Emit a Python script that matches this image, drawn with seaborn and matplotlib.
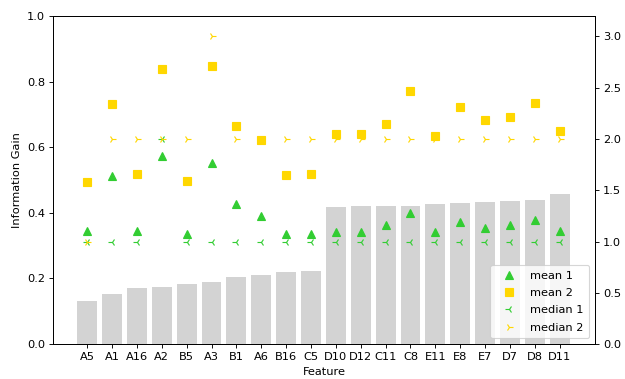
import numpy as np
import pandas as pd
import matplotlib
matplotlib.use("Agg")
import matplotlib.pyplot as plt
import seaborn as sns

features = ["A5", "A1", "A16", "A2", "B5", "A3", "B1", "A6", "B16", "C5",
            "D10", "D12", "C11", "C8", "E11", "E8", "E7", "D7", "D8", "D11"]
info_gain = [0.130, 0.152, 0.172, 0.174, 0.184, 0.190, 0.205, 0.212, 0.219, 0.224,
             0.418, 0.420, 0.420, 0.422, 0.427, 0.431, 0.433, 0.435, 0.440, 0.456]
mean1 = [1.10, 1.64, 1.10, 1.83, 1.07, 1.77, 1.37, 1.25, 1.07, 1.07,
         1.09, 1.09, 1.16, 1.28, 1.09, 1.19, 1.13, 1.16, 1.21, 1.10]
mean2 = [1.58, 2.34, 1.66, 2.68, 1.59, 2.71, 2.13, 1.99, 1.65, 1.66,
         2.05, 2.05, 2.15, 2.47, 2.03, 2.31, 2.19, 2.21, 2.35, 2.08]
median1 = [1, 1, 1, 2, 1, 1, 1, 1, 1, 1, 1, 1, 1, 1, 1, 1, 1, 1, 1, 1]
median2 = [1, 2, 2, 2, 2, 3, 2, 2, 2, 2, 2, 2, 2, 2, 2, 2, 2, 2, 2, 2]

df = pd.DataFrame({"Feature": features, "Information Gain": info_gain})

DPI = 82
fig, ax = plt.subplots(figsize=(625 / DPI, 379 / DPI), dpi=DPI)
fig.subplots_adjust(left=0.085, right=0.952, top=0.958, bottom=0.092)

sns.barplot(data=df, x="Feature", y="Information Gain", color="lightgray",
            saturation=1, width=0.8, ax=ax)
ax.set_ylim(0, 1.0)
ax.set_xlabel("Feature")
ax.set_ylabel("Information Gain")

ax2 = ax.twinx()
pos = np.arange(len(features))
green = "#32CD32"
yellow = "#FFD700"
ms = 6.5
ax2.plot(pos, mean1, linestyle="None", marker="^", markersize=ms, color=green, label="mean 1")
ax2.plot(pos, mean2, linestyle="None", marker="s", markersize=ms, color=yellow, label="mean 2")
ax2.plot(pos, median1, linestyle="None", marker="3", markersize=ms, color=green, label="median 1")
ax2.plot(pos, median2, linestyle="None", marker="4", markersize=ms, color=yellow, label="median 2")
ax2.set_ylim(0, 3.2)
ax2.set_yticks([0.0, 0.5, 1.0, 1.5, 2.0, 2.5, 3.0])
ax2.legend(loc="lower right", numpoints=1, labelspacing=0.65, borderpad=0.5,
           handlelength=2.3, handletextpad=0.7)

ax.set_xlim(-1.37, 20.42)

fig.savefig("out.png", dpi=DPI)
